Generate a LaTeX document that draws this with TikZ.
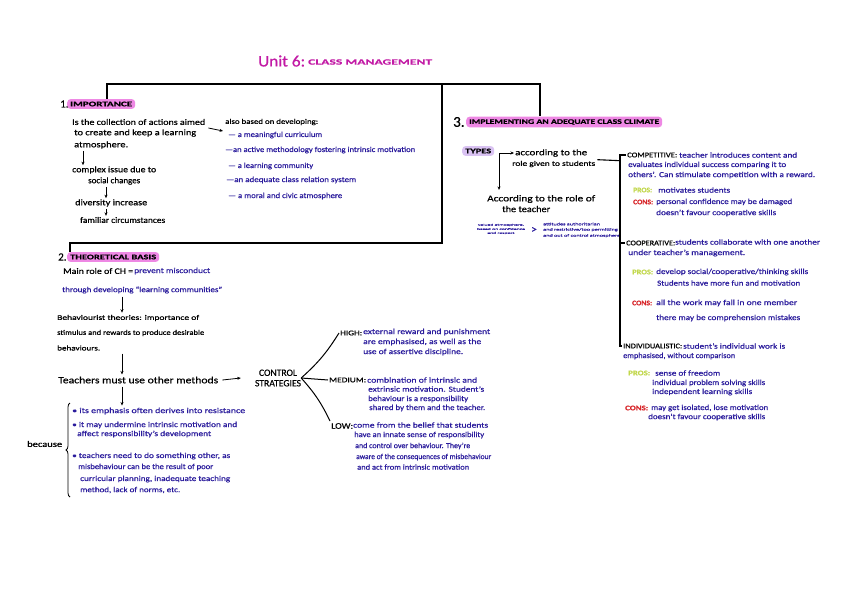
\documentclass[tikz,border=0pt]{standalone}
\usepackage{fontspec}
\usepackage{graphicx}
\setmainfont{Carlito}[FakeBold=0.5]
\usetikzlibrary{arrows.meta,decorations.pathreplacing}
\definecolor{ink}{HTML}{2A1B9C}
\definecolor{ttl}{HTML}{C21AA5}
\definecolor{hpink}{HTML}{EE88E4}
\definecolor{lav}{HTML}{D9C2F2}
\definecolor{prosc}{HTML}{C2D84C}
\definecolor{consc}{HTML}{D8262A}
\newcommand\Tx[5][]{\node[txt,#1] (#2) at (#3) {\resizebox{#4pt}{\height}{#5}};}
\tikzset{
  txt/.style={anchor=west,inner sep=0pt,font=\fontsize{8.5}{9.5}\selectfont,text=black},
  bl/.style={text=ink,font=\fontsize{7.6}{8.5}\selectfont},
  sm/.style={font=\fontsize{7.2}{8}\selectfont},
  hl/.style={anchor=west,fill=hpink,rounded corners=3.5pt,inner xsep=3pt,inner ysep=2.6pt,font=\fontsize{7}{8}\bfseries\selectfont},
  bar/.style={draw=black,line width=1.6pt},
  thinbar/.style={draw=black,line width=1.1pt},
  arr/.style={draw=black,line width=0.8pt,-{Stealth[length=3.5pt,width=3pt]}},
  pros/.style={text=prosc,font=\fontsize{7}{8}\bfseries\selectfont},
  cons/.style={text=consc,font=\fontsize{7}{8}\bfseries\selectfont},
}
\begin{document}
\begin{tikzpicture}[x=1pt,y=-1pt]
\path[fill=white] (0,0) rectangle (848,600);
\useasboundingbox (0,0) rectangle (848,600);
% title
\node[txt,text=ttl,font=\fontsize{16}{18}\selectfont] (t1) at (258,61) {\resizebox{47pt}{\height}{Unit 6:}};
\node[txt,text=ttl,font=\fontsize{8}{9}\bfseries\selectfont] (t2) at (308,62) {\resizebox{124pt}{\height}{CLASS MANAGEMENT}};
% frame coordinates
\coordinate (j1) at (107,84);
\coordinate (j2) at (540,84);
\coordinate (j3) at (442,84);
\coordinate (j4) at (442,243);
\coordinate (j5) at (70,243);
\coordinate (xa) at (122,0);
% section 1
\node[txt,font=\fontsize{11}{12}\selectfont] (n1) at (60,104) {1.};
\node[hl] (h1) at (67,104) {\resizebox{62pt}{\height}{IMPORTANCE}};
\Tx{a1}{72,122}{133}{Is the collection of actions aimed}
\Tx{a2}{74,133}{122}{to create and keep a learning}
\Tx{a3}{74,145}{54}{atmosphere.}
\Tx{a4}{72,170}{84}{complex issue due to}
\Tx{a5}{88,181}{52}{social changes}
\Tx{a6}{75,203}{72}{diversity increase}
\Tx{a7}{80,220}{85}{familiar circumstances}
\Tx[sm]{b0}{225,122}{93}{also based on developing:}
\Tx[bl]{b1}{228,135}{94}{— a meaningful curriculum}
\Tx[bl]{b2}{225,150}{190}{—an active methodology fostering intrinsic motivation}
\Tx[bl]{b3}{228,166}{85}{— a learning community}
\Tx[bl]{b4}{226,180}{130}{—an adequate class relation system}
\Tx[bl]{b5}{228,196}{114}{— a moral and civic atmosphere}
\draw[arr] ([xshift=9pt,yshift=-2pt]a3.south west) -- ([xshift=11pt,yshift=1pt]a4.north west);
\draw[arr] ([xshift=18pt,yshift=-2pt]a5.south west) -- ([xshift=31pt,yshift=1pt]a6.north west);
\draw[arr] ([xshift=31pt,yshift=-2pt]a6.south west) -- ([xshift=26pt,yshift=1pt]a7.north west);
\draw[arr] ([xshift=3pt,yshift=-6pt]a1.east) -- ([xshift=-2pt,yshift=-9pt]b0.west);
% section 2
\node[txt,font=\fontsize{11}{12}\selectfont] (n2) at (58,257) {2.};
\node[hl] (h2) at (67,257) {\resizebox{86pt}{\height}{THEORETICAL BASIS}};
\Tx{c1}{63,271}{70}{Main role of CH =}
\Tx[bl]{c1b}{134,271}{76}{prevent misconduct}
\Tx[bl]{c2}{62,290}{160}{through developing “learning communities”}
\Tx[sm]{c3}{57,318}{142}{Behaviourist theories: importance of}
\Tx[sm]{c4}{57,333}{147}{stimulus and rewards to produce desirable}
\Tx[sm]{c5}{57,348}{43}{behaviours.}
\Tx[font=\fontsize{9.5}{10.5}\selectfont]{c6}{58,380}{160}{Teachers must use other methods}
\node[anchor=center,inner sep=0pt,font=\fontsize{7}{7.5}\selectfont,align=center] (cs) at (278,378) {\resizebox{46pt}{!}{\shortstack{CONTROL\\STRATEGIES}}};
\Tx{because}{27,444}{35}{because}
\coordinate (brb) at (70,497);
\coordinate (brt) at (70,403);
\draw[line width=0.8pt,decorate,decoration={brace,amplitude=4pt}] (brb) -- (brt);
\Tx[bl]{d1}{72,411}{173}{• its emphasis often derives into resistance}
\Tx[bl]{d2}{72,425}{165}{• it may undermine intrinsic motivation and}
\Tx[bl]{d3}{77,434}{134}{affect responsibility’s development}
\Tx[bl]{d4}{72,456}{158}{• teachers need to do something other, as}
\Tx[bl]{d5}{78,467}{135}{misbehaviour can be the result of poor}
\Tx[bl]{d6}{80,479}{150}{curricular planning, inadequate teaching}
\Tx[bl]{d7}{80,490}{100}{method, lack of norms, etc.}
\draw[arr] ([yshift=-3pt]c2.south -| xa) -- ([yshift=2pt]c3.north -| xa);
\draw[arr] ([yshift=-3pt]c5.south -| xa) -- ([yshift=2pt]c6.north -| xa);
\draw[arr] ([xshift=4pt]c6.east) -- ([xshift=-14pt]cs.west);
\draw[arr] ([yshift=-3pt]c6.south -| xa) -- ([yshift=2pt]d1.north -| xa);
% control strategies
\Tx[sm]{hi}{340,333}{22}{HIGH:}
\Tx[bl]{e1}{363,332}{127}{external reward and punishment}
\Tx[bl]{e2}{363,342}{118}{are emphasised, as well as the}
\Tx[bl]{e3}{363,352}{100}{use of assertive discipline.}
\Tx[sm]{me}{329,380}{37}{MEDIUM:}
\Tx[bl]{f1}{367,380}{110}{combination of intrinsic and}
\Tx[bl]{f2}{368,389}{116}{extrinsic motivation. Student’s}
\Tx[bl]{f3}{368,399}{100}{behaviour is a responsibility}
\Tx[bl]{f4}{369,408}{116}{shared by them and the teacher.}
\Tx[font=\fontsize{8.5}{9.5}\selectfont]{lo}{331,426}{22}{LOW:}
\Tx[bl]{g1}{353,425}{135}{come from the belief that students}
\Tx[bl]{g2}{354,435}{130}{have an innate sense of responsibility}
\Tx[bl]{g3}{355,446}{115}{and control over behaviour. They’re}
\Tx[bl]{g4}{356,457}{135}{aware of the consequences of misbehaviour}
\Tx[bl]{g5}{357,467}{112}{and act from intrinsic motivation}
\draw[line width=1pt] (cs.east) to[bend right=8] ([xshift=-1pt]hi.west);
\draw[line width=1pt] (cs.east) -- ([xshift=-1pt]me.west);
\draw[line width=1pt] (cs.east) to[bend left=8] ([xshift=-1pt,yshift=2pt]lo.north west);
% section 3
\node[txt,font=\fontsize{15}{16}\selectfont] (n3) at (453,122) {3.};
\node[hl] (h3) at (466,122) {\resizebox{190pt}{\height}{IMPLEMENTING AN ADEQUATE CLASS CLIMATE}};
\node[hl,fill=lav,inner xsep=3pt] (ty) at (462,151) {\resizebox{26pt}{\height}{TYPES}};
\coordinate (tyc) at (499,153);
\Tx{p1}{515,153}{72}{according to the}
\Tx[sm]{p2}{512,164}{83}{role given to students}
\Tx[font=\fontsize{9}{10}\selectfont]{p3}{487,199}{108}{According to the role of}
\Tx[font=\fontsize{9}{10}\selectfont]{p4}{502,209}{48}{the teacher}
\draw[arr] (tyc) -- ([xshift=-1pt]p1.west);
\draw[line width=0.8pt] ([yshift=-0.4pt]tyc) -- ([yshift=0.4pt]tyc);
\draw[arr] (tyc) -- ([yshift=5pt]p3.north -| tyc);
\node[inner sep=0pt,text=ink,font=\fontsize{4}{4.5}\selectfont,align=center] (q1) at (501,229) {\resizebox{48pt}{10pt}{\shortstack{valued atmosphere,\\based on confidence\\and respect}}};
\node[inner sep=0pt,text=ink,font=\fontsize{11}{11}\selectfont] (gt) at (534,230) {>};
\node[anchor=west,inner sep=0pt,text=ink,font=\fontsize{4}{4.5}\selectfont,align=left] (r1) at (543,230) {\resizebox{77pt}{14pt}{\shortstack[l]{attitudes authoritarian\\and restrictive/too permitting\\and out of control atmosphere}}};
% bracket of types
\coordinate (ktop) at (620,155);
\Tx[sm]{cp}{627,155}{50}{COMPETITIVE:}
\Tx[bl]{cp1}{679,155}{118}{teacher introduces content and}
\Tx[bl]{cp2}{628,165}{158}{evaluates individual success comparing it to}
\Tx[bl]{cp3}{628,175}{187}{others’. Can stimulate competition with a reward.}
\Tx[pros]{pr1}{633,190}{19}{PROS:}
\Tx[bl]{pr1t}{658,190}{72}{motivates students}
\Tx[cons]{cn1}{633,202}{20}{CONS:}
\Tx[bl]{cn1t}{656,202}{136}{personal confidence may be damaged}
\Tx[bl]{cn1u}{656,213}{120}{doesn’t favour cooperative skills}
\Tx[sm]{co}{626,243}{49}{COOPERATIVE:}
\Tx[bl]{co1}{675,242}{145}{students collaborate with one another}
\Tx[bl]{co2}{628,253}{117}{under teacher’s management.}
\Tx[pros]{pr2}{632,272}{21}{PROS:}
\Tx[bl]{pr2t}{656,272}{152}{develop social/cooperative/thinking skills}
\Tx[bl]{pr2u}{657,283}{143}{Students have more fun and motivation}
\Tx[cons]{cn2}{632,303}{20}{CONS:}
\Tx[bl]{cn2t}{656,303}{141}{all the work may fall in one member}
\Tx[bl]{cn2u}{656,318}{144}{there may be comprehension mistakes}
\Tx[sm]{iv}{623,346}{59}{INDIVIDUALISTIC:}
\Tx[bl]{iv1}{683,346}{102}{student’s individual work is}
\Tx[bl]{iv2}{623,356}{112}{emphasised, without comparison}
\Tx[pros]{pr3}{628,373}{22}{PROS:}
\Tx[bl]{pr3t}{655,373}{65}{sense of freedom}
\Tx[bl]{pr3u}{652,383}{113}{individual problem solving skills}
\Tx[bl]{pr3v}{652,392}{100}{independent learning skills}
\Tx[cons]{cn3}{625,408}{23}{CONS:}
\Tx[bl]{cn3t}{651,408}{117}{may get isolated, lose motivation}
\Tx[bl]{cn3u}{648,417}{117}{doesn’t favour cooperative skills}
\draw[thinbar] ([xshift=-1pt]cp.west) -- (cp.west -| ktop) -- (iv.west -| ktop) -- ([xshift=-1pt]iv.west);
\draw[thinbar] (co.west -| ktop) -- ([xshift=-1pt]co.west);
\draw[thinbar] ([xshift=2pt,yshift=1pt]p2.north east) -- (p2.north east -| ktop);
% frame
\draw[bar] (h1.north -| j1) -- (j1) -- (j2) -- (h3.north -| j2);
\draw[bar] (j3) -- (j4) -- (j5) -- (h2.north -| j5);
\end{tikzpicture}
\end{document}
